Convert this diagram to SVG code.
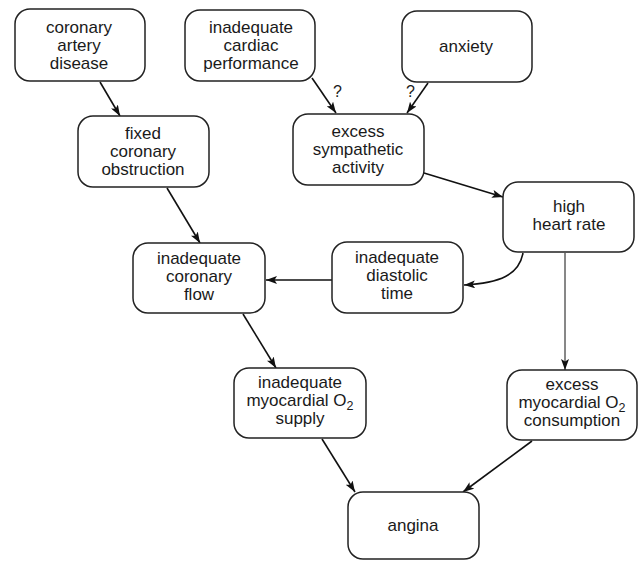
<svg xmlns="http://www.w3.org/2000/svg" width="640" height="561" viewBox="0 0 640 561">
<defs>
<marker id="ah" markerUnits="userSpaceOnUse" markerWidth="12" markerHeight="8" refX="11" refY="4" orient="auto">
<path d="M0,0 L11,4 L0,8 L2.5,4 z" fill="#111"/>
</marker>
<style>
.box{fill:#fff;stroke:#222;stroke-width:1.5}
.t{font-family:"Liberation Sans",Arial,sans-serif;font-size:17px;fill:#1a1a1a;text-anchor:middle}
.q{font-family:"Liberation Sans",Arial,sans-serif;font-size:16px;fill:#1a1a1a}
.e{fill:none;stroke:#111;stroke-width:1.6;marker-end:url(#ah)}
.thin{stroke-width:1}
</style>
</defs>
<rect width="640" height="561" fill="#fff"/>
<g id="connectors">
<line class="e" x1="100" y1="82" x2="120" y2="116"/>
<line class="e" x1="312" y1="78" x2="336" y2="113"/>
<line class="e" x1="428" y1="83" x2="407" y2="113"/>
<line class="e" x1="424" y1="173" x2="503" y2="197"/>
<line class="e" x1="167" y1="188" x2="200" y2="243"/>
<path class="e" d="M523,253 C519,275 500,283 464,285"/>
<line class="e" x1="332" y1="280" x2="266" y2="280"/>
<line class="e thin" x1="565" y1="253" x2="565" y2="370"/>
<line class="e" x1="243" y1="314" x2="276" y2="368"/>
<line class="e" x1="322" y1="439" x2="355" y2="492"/>
<line class="e" x1="532" y1="441" x2="463" y2="492"/>
<text class="q" x="333" y="97">?</text>
<text class="q" x="406" y="97">?</text>
</g>
<g id="n1"><rect class="box" x="15" y="9" width="130" height="72" rx="15"/>
<text class="t" x="79" y="33">coronary</text><text class="t" x="79" y="51">artery</text><text class="t" x="79" y="69">disease</text></g>
<g id="n2"><rect class="box" x="185" y="10" width="130" height="71" rx="15"/>
<text class="t" x="251" y="33">inadequate</text><text class="t" x="251" y="51">cardiac</text><text class="t" x="251" y="69">performance</text></g>
<g id="n3"><rect class="box" x="402" y="11" width="130" height="71" rx="15"/>
<text class="t" x="466" y="52">anxiety</text></g>
<g id="n4"><rect class="box" x="78" y="116" width="131" height="71" rx="15"/>
<text class="t" x="143" y="139">fixed</text><text class="t" x="143" y="157">coronary</text><text class="t" x="143" y="175">obstruction</text></g>
<g id="n5"><rect class="box" x="293" y="114" width="131" height="71" rx="15"/>
<text class="t" x="358" y="137">excess</text><text class="t" x="358" y="155">sympathetic</text><text class="t" x="358" y="173">activity</text></g>
<g id="n6"><rect class="box" x="503" y="182" width="131" height="70" rx="15"/>
<text class="t" x="569" y="212">high</text><text class="t" x="569" y="230">heart rate</text></g>
<g id="n7"><rect class="box" x="133" y="243" width="132" height="70" rx="15"/>
<text class="t" x="199" y="264">inadequate</text><text class="t" x="199" y="282">coronary</text><text class="t" x="199" y="300">flow</text></g>
<g id="n8"><rect class="box" x="332" y="242" width="131" height="71" rx="15"/>
<text class="t" x="397" y="263">inadequate</text><text class="t" x="397" y="281">diastolic</text><text class="t" x="397" y="299">time</text></g>
<g id="n9"><rect class="box" x="234" y="368" width="132" height="70" rx="15"/>
<text class="t" x="300" y="388">inadequate</text><text class="t" x="300" y="406">myocardial O<tspan font-size="12.5" dy="4">2</tspan></text><text class="t" x="300" y="424">supply</text></g>
<g id="n10"><rect class="box" x="507" y="370" width="130" height="70" rx="15"/>
<text class="t" x="572" y="390">excess</text><text class="t" x="572" y="408">myocardial O<tspan font-size="12.5" dy="4">2</tspan></text><text class="t" x="572" y="426">consumption</text></g>
<g id="n11"><rect class="box" x="348" y="492" width="131" height="67" rx="15"/>
<text class="t" x="413" y="531">angina</text></g>
</svg>
